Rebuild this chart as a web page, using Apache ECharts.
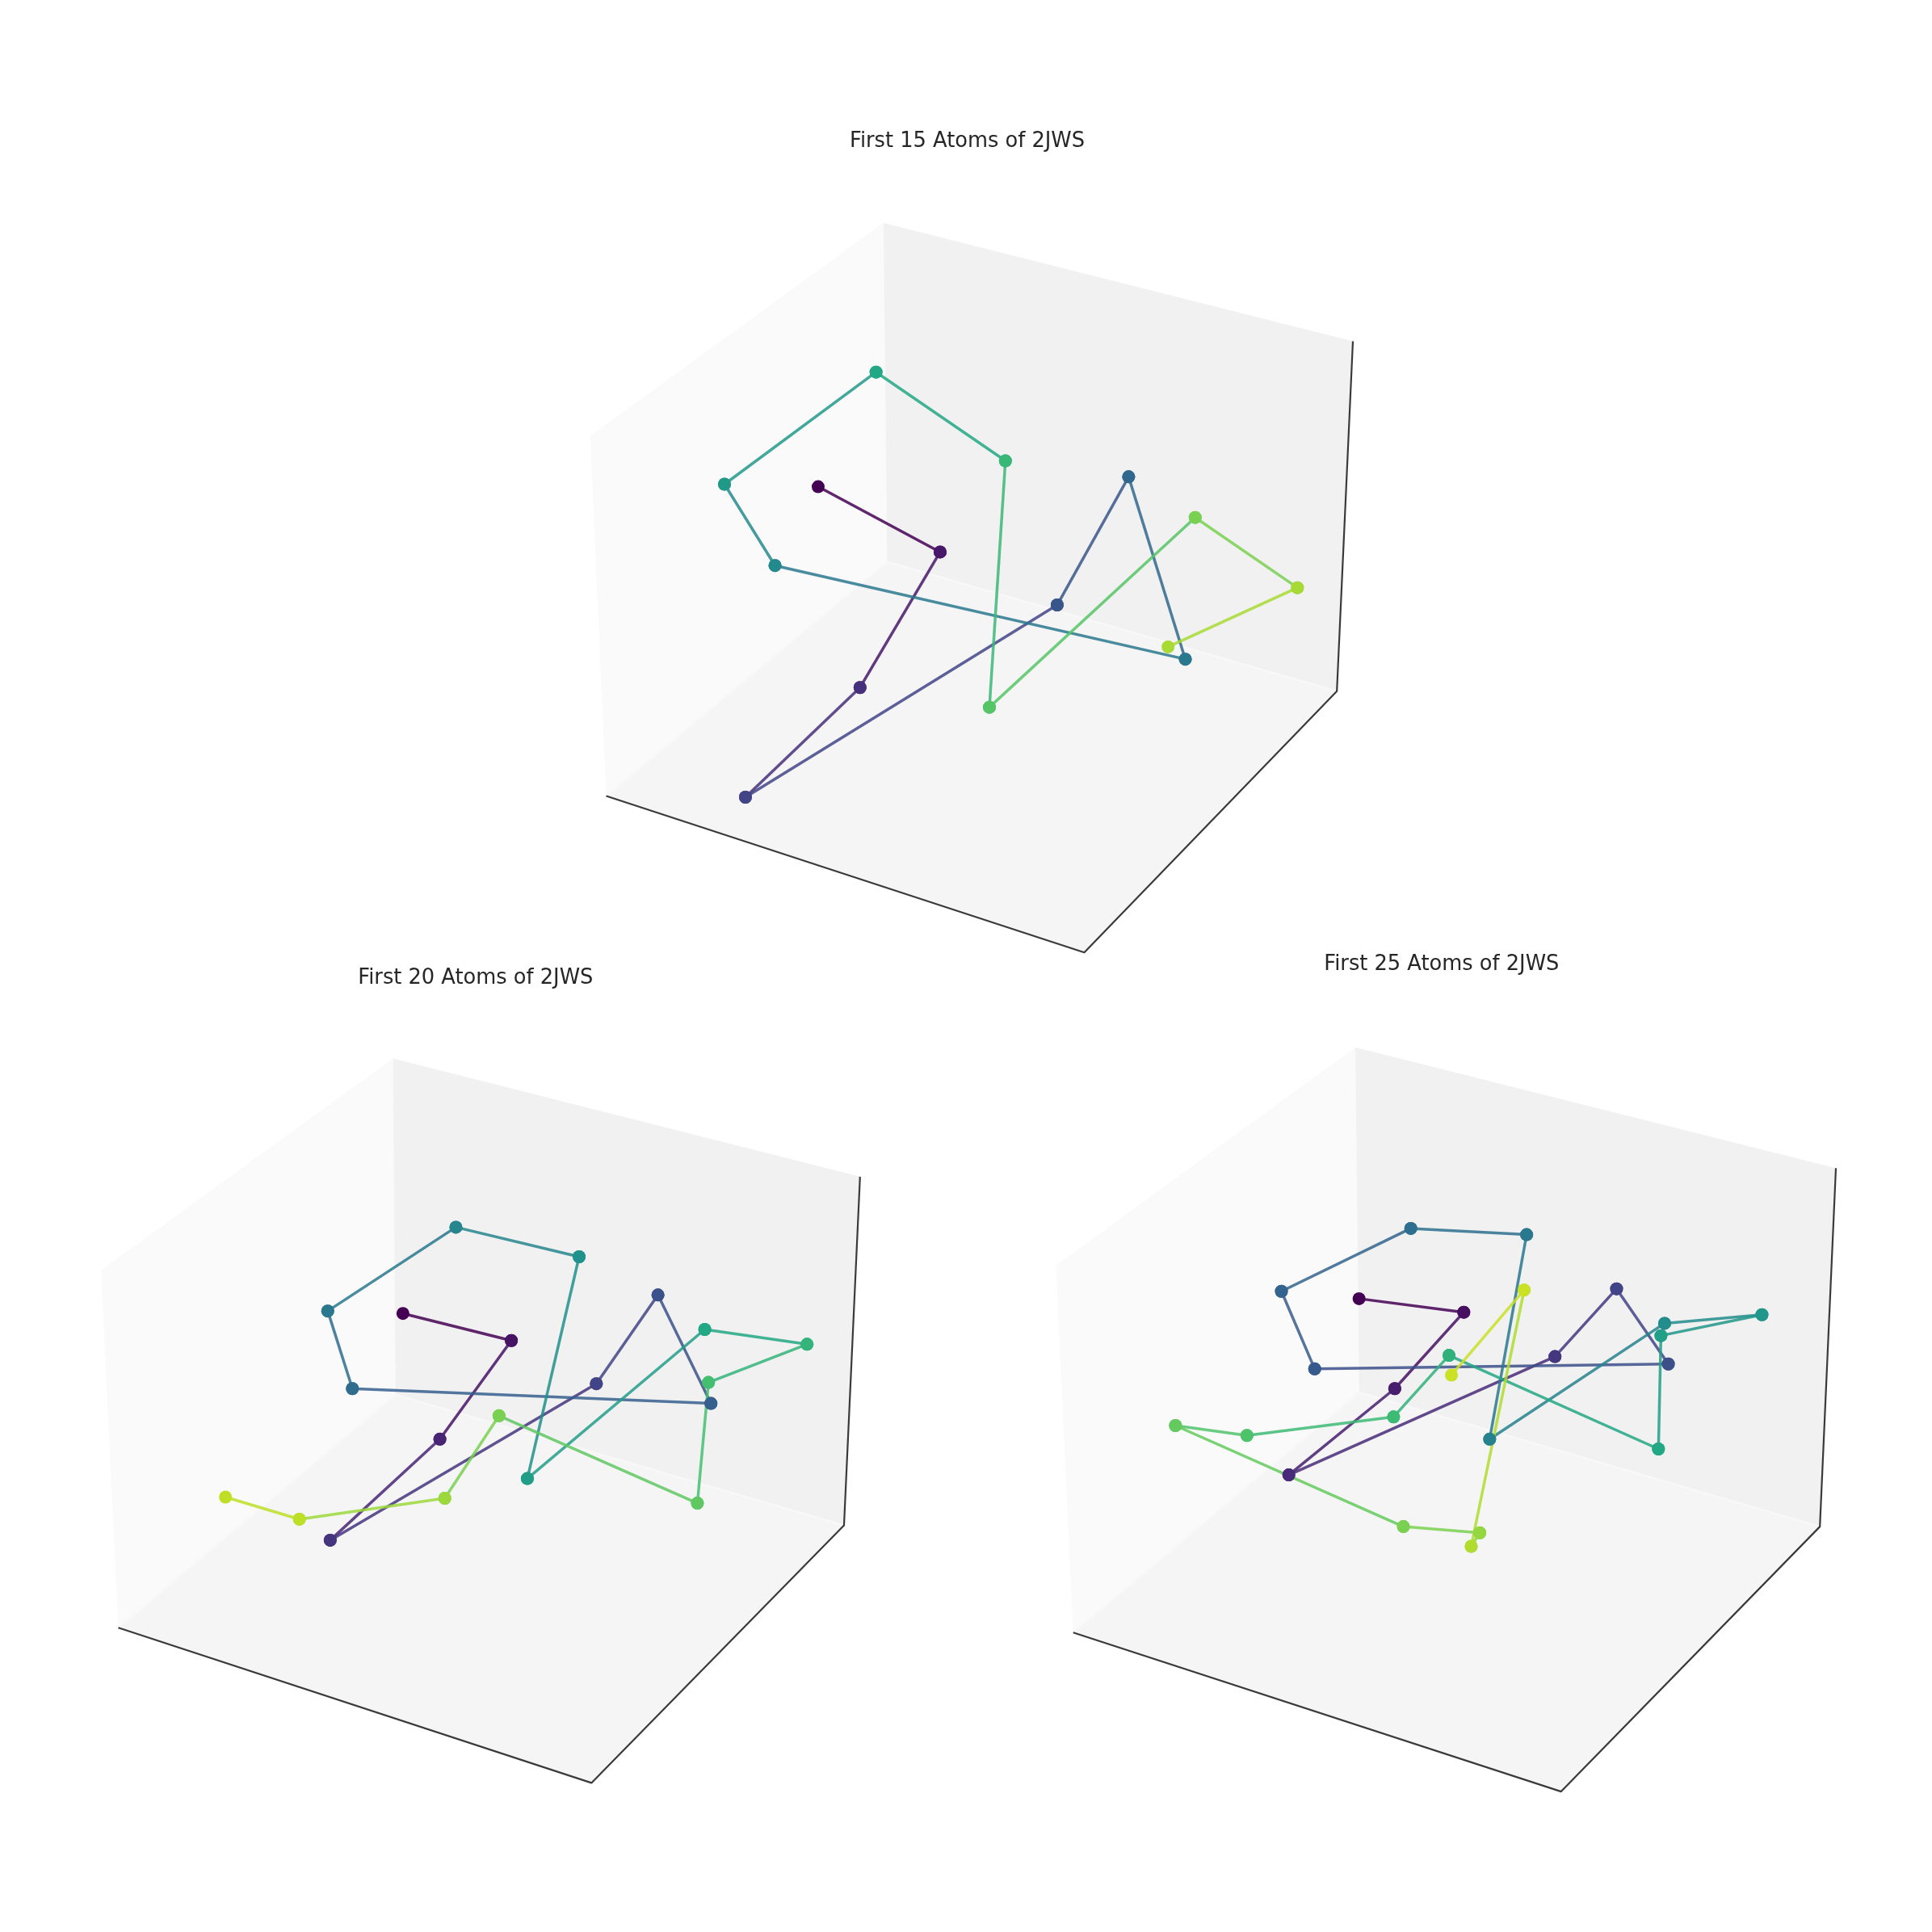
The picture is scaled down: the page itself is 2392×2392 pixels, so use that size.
<!DOCTYPE html>
<html>
<head>
<meta charset="utf-8">
<title>First atoms of 2JWS</title>
<style>
  html, body { margin: 0; padding: 0; background: #fff; }
  #chart { width: 2392px; height: 2392px; }
</style>
<script src="https://cdn.jsdelivr.net/npm/echarts@6/dist/echarts.min.js"></script>
</head>
<body>
<div id="chart"></div>
<script>
// projected atom positions
const titles = ['First 15 Atoms of 2JWS', 'First 20 Atoms of 2JWS', 'First 25 Atoms of 2JWS']

const atomsX15 = [664, 763, 698, 605, 858, 916, 962, 629, 588, 711, 816, 803, 970, 1053, 948]
const atomsY15 = [395, 448, 558, 647, 491, 387, 535, 459, 393, 302, 374, 574, 420, 477, 525]

const atomsX20 = [327, 415, 357, 268, 484, 534, 577, 286, 266, 370, 470, 428, 572, 655, 575, 566, 405, 361, 243, 183]
const atomsY20 = [1066, 1088, 1168, 1250, 1123, 1051, 1139, 1127, 1064, 996, 1020, 1200, 1079, 1091, 1122, 1220, 1149, 1216, 1233, 1215]

const atomsX25 = [1103, 1188, 1132, 1046, 1262, 1312, 1354, 1067, 1040, 1145, 1239, 1209, 1351, 1430, 1348, 1346, 1176, 1131, 1012, 954, 1139, 1201, 1194, 1237, 1178]
const atomsY25 = [1054, 1065, 1127, 1197, 1101, 1046, 1107, 1111, 1048, 997, 1002, 1168, 1074, 1067, 1084, 1176, 1100, 1150, 1165, 1157, 1239, 1244, 1255, 1047, 1116]

// corners of the three visible box panes
const boxA = { outerTop: [717, 181], right: [1098, 277], rightLow: [1085, 561], front: [880, 773], leftLow: [492, 646], left: [479, 354], inner: [720, 456] }
const boxB = { outerTop: [319, 859], right: [698, 955], rightLow: [685, 1238], front: [480, 1447], leftLow: [96, 1321], left: [82, 1031], inner: [321, 1132] }
const boxC = { outerTop: [1100, 850], right: [1490, 948], rightLow: [1477, 1239], front: [1267, 1454], leftLow: [871, 1325], left: [857, 1027], inner: [1103, 1130] }

const SCALE = 2392 / 1568
const viridisStops = ['#440154', '#482475', '#414487', '#355f8d', '#2a788e', '#21918c', '#22a884', '#44bf70', '#7ad151', '#bddf26', '#fde725']

function viridis(t) {
    let p = t * (viridisStops.length - 1)
    let i = Math.min(Math.floor(p), viridisStops.length - 2)
    let f = p - i
    let a = parseInt(viridisStops[i].slice(1), 16)
    let b = parseInt(viridisStops[i + 1].slice(1), 16)
    let mix = s => Math.round(((a >> s) & 255) * (1 - f) + ((b >> s) & 255) * f)
    return 'rgb(' + mix(16) + ',' + mix(8) + ',' + mix(0) + ')'
}

function paneSeries(index, corners, color) {
    return {
        type: 'custom',
        xAxisIndex: index,
        yAxisIndex: index,
        z: 1,
        silent: true,
        clip: false,
        data: [0],
        renderItem: (params, api) => ({
            type: 'polygon',
            shape: { points: corners.map(c => api.coord(c)) },
            style: { fill: color }
        })
    }
}

function edgeSeries(index, points, color, width) {
    return {
        type: 'line',
        xAxisIndex: index,
        yAxisIndex: index,
        z: 2,
        silent: true,
        symbol: 'none',
        clip: false,
        lineStyle: { color: color, width: width },
        data: points
    }
}

function panelSeries(index, box, xs, ys) {
    let result = [
        paneSeries(index, [box.left, box.outerTop, box.inner, box.leftLow], '#fafafa'),
        paneSeries(index, [box.outerTop, box.right, box.rightLow, box.inner], '#f1f1f1'),
        paneSeries(index, [box.leftLow, box.inner, box.rightLow, box.front], '#f5f5f5'),
        // soft seams where the panes meet
        edgeSeries(index, [box.leftLow, box.inner, box.rightLow], '#f8f8f8', 2.5),
        edgeSeries(index, [box.leftLow, box.front, box.rightLow, box.right], '#3a3a3a', 2.2)
    ]
    // every bond is its own line, coloured by its position in the chain
    for (let i = 0; i < xs.length - 1; i++) {
        let color = viridis(i / xs.length)
        result.push({
            type: 'line',
            xAxisIndex: index,
            yAxisIndex: index,
            z: 3,
            silent: true,
            clip: false,
            symbol: 'circle',
            symbolSize: 16,
            showAllSymbol: true,
            itemStyle: { color: color },
            lineStyle: { color: color, width: 3.5, opacity: 0.85 },
            data: [[xs[i], ys[i]], [xs[i + 1], ys[i + 1]]]
        })
    }
    return result
}

// extent of each panel in picture units, mapped 1:1 through the axes
const extents = [
    { x: [460, 1110], y: [170, 785] },
    { x: [70, 710], y: [850, 1460] },
    { x: [845, 1500], y: [840, 1465] }
]

let chart = echarts.init(document.getElementById('chart'), null, { renderer: 'canvas' })

let option = {
    animation: false,
    backgroundColor: '#ffffff',
    title: [
        { text: titles[0], left: 785 * SCALE - 5, top: 157, textAlign: 'center' },
        { text: titles[1], left: 386 * SCALE - 5, top: 1193, textAlign: 'center' },
        { text: titles[2], left: 1170 * SCALE - 5, top: 1176, textAlign: 'center' }
    ].map(t => ({
        ...t,
        textStyle: { fontFamily: 'DejaVu Sans', fontSize: 25.7, fontWeight: 'normal', color: '#262626' }
    })),
    grid: extents.map(e => ({
        left: e.x[0] * SCALE,
        top: e.y[0] * SCALE,
        width: (e.x[1] - e.x[0]) * SCALE,
        height: (e.y[1] - e.y[0]) * SCALE,
        show: false
    })),
    xAxis: extents.map((e, i) => ({ type: 'value', gridIndex: i, min: e.x[0], max: e.x[1], show: false })),
    yAxis: extents.map((e, i) => ({ type: 'value', gridIndex: i, min: e.y[0], max: e.y[1], inverse: true, show: false })),
    series: [
        ...panelSeries(0, boxA, atomsX15, atomsY15),
        ...panelSeries(1, boxB, atomsX20, atomsY20),
        ...panelSeries(2, boxC, atomsX25, atomsY25)
    ]
}

chart.setOption(option)
</script>
</body>
</html>
